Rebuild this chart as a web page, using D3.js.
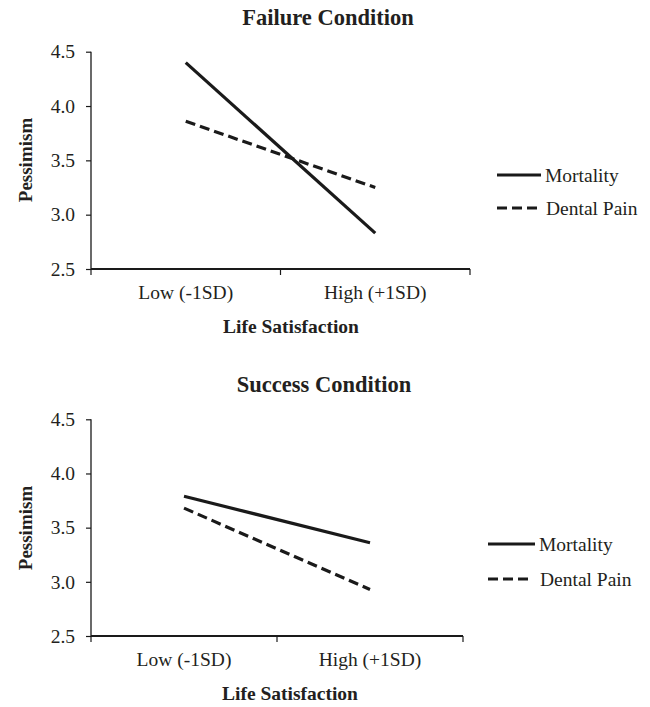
<!DOCTYPE html>
<meta charset="utf-8">
<html>
<head>
<style>
    body { margin: 0; background: #fff; }
    svg, svg text, svg .tick text {
        font-family: "Liberation Serif", "Times New Roman", Times, "Nimbus Roman", "DejaVu Serif", serif !important;
        fill: #231f20;
    }
    .tick-label { font-size: 19.5px; }
    .legend-label { font-size: 19.5px; }
    .axis-title { font-size: 19.5px; font-weight: bold; }
    .panel-title { font-size: 22.5px; font-weight: bold; }
</style>
</head>
<body>
<svg width="650" height="707" id="chart-area"></svg>

<script src="https://d3js.org/d3.v7.min.js"></script>
<script>
    // data
    var categories = ["Low (-1SD)", "High (+1SD)"];
    var seriesNames = ["Mortality", "Dental Pain"];
    var yTicks = [2.5, 3.0, 3.5, 4.0, 4.5];

    var failureMortality = [4.40, 2.83];
    var failureDental = [3.86, 3.25];
    var successMortality = [3.79, 3.36];
    var successDental = [3.68, 2.93];

    var svg = d3.select("svg");
    var ink = "#1a1a1a";
    var serif = "'Liberation Serif', 'Times New Roman', Times, 'DejaVu Serif', serif";

    /* one panel = title, axes, two lines, legend */
    function drawPanel(p) {
        var g = svg.append("g").style("font-family", serif);

        var x = d3.scaleBand().domain(categories).range([p.left, p.right]).padding(0);
        var y = d3.scaleLinear().domain([2.5, 4.5]).range([p.bottom, p.top]);

        // panel title
        g.append("text")
            .attr("class", "panel-title")
            .attr("x", p.titleX)
            .attr("y", p.titleY)
            .attr("text-anchor", "middle")
            .style("font-family", serif)
            .text(p.title);

        // y axis
        var yAxis = g.append("g")
            .attr("transform", "translate(" + p.left + ",0)")
            .call(d3.axisLeft(y).tickValues(yTicks).tickFormat(d3.format(".1f")).tickSize(5).tickPadding(11));
        yAxis.attr("font-family", null).attr("font-size", null);
        yAxis.select(".domain").attr("stroke", ink).attr("stroke-width", 1.3)
            .attr("d", "M0," + p.top + "V" + p.bottom);
        yAxis.selectAll(".tick line").attr("stroke", ink).attr("stroke-width", 1.2);
        yAxis.selectAll(".tick text").attr("class", "tick-label").attr("fill", null)
            .style("font-family", serif);

        // x axis: labels at band centres, ticks at band edges
        var xAxis = g.append("g")
            .attr("transform", "translate(0," + p.bottom + ")")
            .call(d3.axisBottom(x).tickSize(0).tickPadding(24));
        xAxis.attr("font-family", null).attr("font-size", null);
        xAxis.select(".domain").remove();
        xAxis.selectAll(".tick text").attr("class", "tick-label").attr("fill", null)
            .attr("dy", "0.3em").style("font-family", serif);

        var edges = categories.map(function (c) { return x(c); }).concat([x.range()[1]]);
        g.append("line")
            .attr("x1", p.left).attr("x2", p.right)
            .attr("y1", p.bottom).attr("y2", p.bottom)
            .attr("stroke", ink).attr("stroke-width", 2.2);
        g.selectAll(".xtick")
            .data(edges)
            .enter().append("line")
            .attr("class", "xtick")
            .attr("x1", function (d) { return d; }).attr("x2", function (d) { return d; })
            .attr("y1", p.bottom).attr("y2", p.bottom + 6)
            .attr("stroke", ink).attr("stroke-width", 1.2);

        // axis titles
        g.append("text")
            .attr("class", "axis-title")
            .attr("x", p.xTitleX)
            .attr("y", p.xTitleY)
            .attr("text-anchor", "middle")
            .style("font-family", serif)
            .text("Life Satisfaction");
        g.append("text")
            .attr("class", "axis-title")
            .attr("transform", "translate(32," + p.yTitleY + ") rotate(-90)")
            .attr("text-anchor", "middle")
            .style("font-family", serif)
            .style("font-size", "19px")
            .text("Pessimism");

        // lines
        var line = d3.line()
            .x(function (d, i) { return x(categories[i]) + x.bandwidth() / 2; })
            .y(function (d) { return y(d); });
        var series = [p.mortality, p.dental];
        var dashes = [null, "10,5"];

        g.selectAll(".series")
            .data(series)
            .enter().append("path")
            .attr("class", "series")
            .attr("d", line)
            .attr("fill", "none")
            .attr("stroke", ink)
            .attr("stroke-width", 3.2)
            .attr("stroke-dasharray", function (d, i) { return dashes[i]; });

        // legend
        var lg = g.selectAll(".legend")
            .data(seriesNames)
            .enter().append("g")
            .attr("class", "legend")
            .attr("transform", function (d, i) { return "translate(" + p.legendX + "," + (p.legendY + i * p.legendGap) + ")"; });
        lg.append("line")
            .attr("x1", 0)
            .attr("x2", function (d, i) { return i === 0 ? p.legendLen : p.legendLen - 4; })
            .attr("stroke", ink)
            .attr("stroke-width", 3.2)
            .attr("stroke-dasharray", function (d, i) { return dashes[i]; });
        lg.append("text")
            .attr("class", "legend-label")
            .attr("x", function (d, i) { return p.legendLen + 4 + i; })
            .attr("y", 6.5)
            .style("font-family", serif)
            .text(function (d) { return d; });
    }

    drawPanel({
        title: "Failure Condition", titleX: 328, titleY: 25,
        left: 91, right: 470, top: 51.7, bottom: 269,
        xTitleX: 291, xTitleY: 333, yTitleY: 160,
        mortality: failureMortality, dental: failureDental,
        legendX: 497, legendY: 175, legendGap: 33, legendLen: 44
    });

    drawPanel({
        title: "Success Condition", titleX: 324, titleY: 392,
        left: 91, right: 463, top: 419.3, bottom: 636,
        xTitleX: 290, xTitleY: 700, yTitleY: 528,
        mortality: successMortality, dental: successDental,
        legendX: 488, legendY: 544, legendGap: 35, legendLen: 47
    });
</script>
</body>
</html>
